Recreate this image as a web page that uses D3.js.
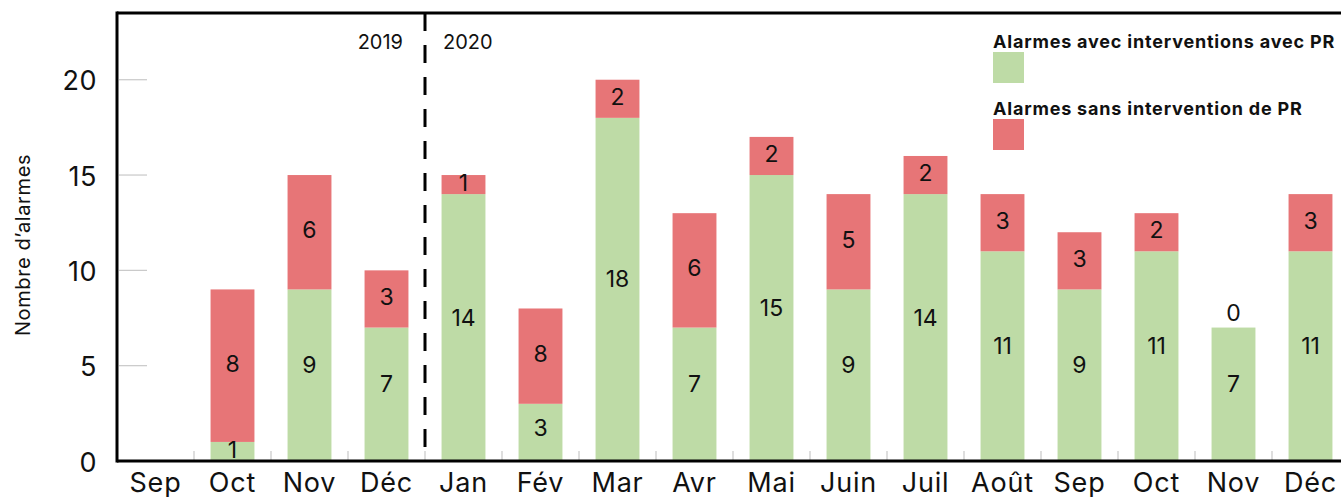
<!DOCTYPE html>
<html>
<head>
<meta charset="utf-8">
<script src="https://cdn.jsdelivr.net/npm/d3@7"></script>
<style>
  html, body { margin: 0; padding: 0; background: #fff; overflow: hidden; }
  svg { display: block; font-family: "Inter", "Open Sans", sans-serif; }
</style>
</head>
<body>
<svg id="chart" width="1341" height="497"></svg>
<script>
// mois (sep 2019 -> déc 2020)
const months = ['Sep', 'Oct', 'Nov', 'Déc', 'Jan', 'Fév', 'Mar', 'Avr', 'Mai', 'Juin', 'Juil', 'Août', 'Sep', 'Oct', 'Nov', 'Déc'];
// alarmes avec interventions avec PR
const avecValues = [0, 1, 9, 7, 14, 3, 18, 7, 15, 9, 14, 11, 9, 11, 7, 11];
// alarmes sans intervention de PR (hauteur dessinée)
const sansValues = [0, 8, 6, 3, 1, 5, 2, 6, 2, 5, 2, 3, 3, 2, 0, 3];
// étiquettes affichées (Fév est marqué 8 dans l'original)
const sansLabels = [null, 8, 6, 3, 1, 8, 2, 6, 2, 5, 2, 3, 3, 2, 0, 3];
const yTicks = [0, 5, 10, 15, 20];
const seriesNames = ['Alarmes avec interventions avec PR', 'Alarmes sans intervention de PR'];

const GREEN = '#bedba6';
const RED = '#e77577';

const svg = d3.select('#chart');
const plotLeft = 117, plotTop = 13, plotBottom = 461;
const step = 77;

const x = d3.scaleBand()
  .domain(d3.range(months.length))
  .range([plotLeft, plotLeft + step * months.length])
  .paddingInner(0.43)
  .paddingOuter(0.215);

const y = d3.scaleLinear().domain([0, 23.5]).range([plotBottom, plotTop]);

// ---- bars ----
const g = svg.append('g');
g.selectAll('rect.avec')
  .data(avecValues)
  .join('rect')
  .attr('class', 'avec')
  .attr('x', (d, i) => x(i))
  .attr('width', x.bandwidth())
  .attr('y', (d) => y(d))
  .attr('height', (d) => y(0) - y(d))
  .attr('fill', GREEN);

g.selectAll('rect.sans')
  .data(sansValues)
  .join('rect')
  .attr('class', 'sans')
  .attr('x', (d, i) => x(i))
  .attr('width', x.bandwidth())
  .attr('y', (d, i) => y(avecValues[i] + d))
  .attr('height', (d, i) => y(avecValues[i]) - y(avecValues[i] + d))
  .attr('fill', RED);

// ---- value labels ----
const avecRows = avecValues.map((v, i) => ({ v, i })).filter((r) => r.v > 0);
g.selectAll('text.lab-avec')
  .data(avecRows)
  .join('text')
  .attr('class', 'lab-avec')
  .attr('x', (r) => x(r.i) + x.bandwidth() / 2)
  .attr('y', (r) => {
    const h = y(0) - y(r.v);
    return (y(0) + y(r.v)) / 2 - Math.min(10, h * 0.08);
  })
  .attr('text-anchor', 'middle')
  .attr('dominant-baseline', 'central')
  .attr('font-size', 23)
  .attr('fill', '#111')
  .text((r) => r.v);

const sansRows = sansLabels.map((lab, i) => ({ lab, v: sansValues[i], i })).filter((r) => r.lab !== null);
g.selectAll('text.lab-sans')
  .data(sansRows)
  .join('text')
  .attr('class', 'lab-sans')
  .attr('x', (r) => x(r.i) + x.bandwidth() / 2)
  .attr('y', (r) => {
    const base = avecValues[r.i];
    if (r.v === 0) return y(base) - 15;
    return (y(base) + y(base + r.v)) / 2 - 2;
  })
  .attr('text-anchor', 'middle')
  .attr('dominant-baseline', 'central')
  .attr('font-size', 23)
  .attr('fill', '#111')
  .text((r) => r.lab);

// ---- y axis ----
const yAxis = svg.append('g');
yAxis.selectAll('line')
  .data(yTicks.filter((t) => t > 0))
  .join('line')
  .attr('x1', plotLeft + 2).attr('x2', plotLeft + 30)
  .attr('y1', (d) => y(d)).attr('y2', (d) => y(d))
  .attr('stroke', '#c8c8c8').attr('stroke-width', 1.2);
yAxis.selectAll('text')
  .data(yTicks)
  .join('text')
  .attr('x', 97)
  .attr('y', (d) => y(d) + 1)
  .attr('text-anchor', 'end')
  .attr('dominant-baseline', 'central')
  .attr('font-size', 27)
  .attr('letter-spacing', 0.5)
  .attr('fill', '#111')
  .text((d) => d);

svg.append('text')
  .attr('transform', `translate(30,${(plotTop + plotBottom) / 2 + 8}) rotate(-90)`)
  .attr('text-anchor', 'middle')
  .attr('font-size', 20)
  .attr('letter-spacing', 0.6)
  .attr('fill', '#111')
  .text('Nombre d’alarmes');

// ---- x axis ----
const xAxis = svg.append('g');
xAxis.selectAll('line')
  .data(d3.range(1, months.length))
  .join('line')
  .attr('x1', (d) => x(d) - x.step() * 0.215)
  .attr('x2', (d) => x(d) - x.step() * 0.215)
  .attr('y1', plotBottom - 10).attr('y2', plotBottom)
  .attr('stroke', '#c8c8c8').attr('stroke-width', 1.2);
xAxis.selectAll('text')
  .data(months)
  .join('text')
  .attr('x', (d, i) => x(i) + x.bandwidth() / 2)
  .attr('y', 492)
  .attr('text-anchor', 'middle')
  .attr('font-size', 27)
  .attr('letter-spacing', 0.8)
  .attr('fill', '#111')
  .text((d) => d);

// ---- frame ----
svg.append('line')
  .attr('x1', plotLeft).attr('x2', 1341).attr('y1', plotTop).attr('y2', plotTop)
  .attr('stroke', '#000').attr('stroke-width', 3);
svg.append('line')
  .attr('x1', plotLeft).attr('x2', plotLeft).attr('y1', plotTop - 1.5).attr('y2', plotBottom + 1.5)
  .attr('stroke', '#000').attr('stroke-width', 3);
svg.append('line')
  .attr('x1', plotLeft).attr('x2', 1341).attr('y1', plotBottom).attr('y2', plotBottom)
  .attr('stroke', '#000').attr('stroke-width', 3);

// ---- year separator ----
const sepX = x(4) - x.step() * 0.215;
svg.append('line')
  .attr('x1', sepX).attr('x2', sepX).attr('y1', plotTop).attr('y2', plotBottom)
  .attr('stroke', '#000').attr('stroke-width', 3)
  .attr('stroke-dasharray', '18,14');
svg.append('text')
  .attr('x', sepX - 22).attr('y', 42)
  .attr('text-anchor', 'end').attr('dominant-baseline', 'central')
  .attr('font-size', 20).attr('fill', '#111')
  .text('2019');
svg.append('text')
  .attr('x', sepX + 18).attr('y', 42)
  .attr('dominant-baseline', 'central')
  .attr('font-size', 20).attr('fill', '#111')
  .text('2020');

// ---- legend ----
const legend = svg.append('g').attr('transform', 'translate(993,0)');
const legendItems = legend.selectAll('g')
  .data(seriesNames)
  .join('g')
  .attr('transform', (d, i) => `translate(0,${41 + i * 67})`);
legendItems.append('text')
  .attr('dominant-baseline', 'central')
  .attr('font-size', 18)
  .attr('font-weight', 700)
  .attr('letter-spacing', 0.8)
  .attr('fill', '#111')
  .text((d) => d);
legendItems.append('rect')
  .attr('x', 0).attr('y', 11)
  .attr('width', 31).attr('height', 31)
  .attr('fill', (d, i) => (i === 0 ? GREEN : RED));
</script>
</body>
</html>
